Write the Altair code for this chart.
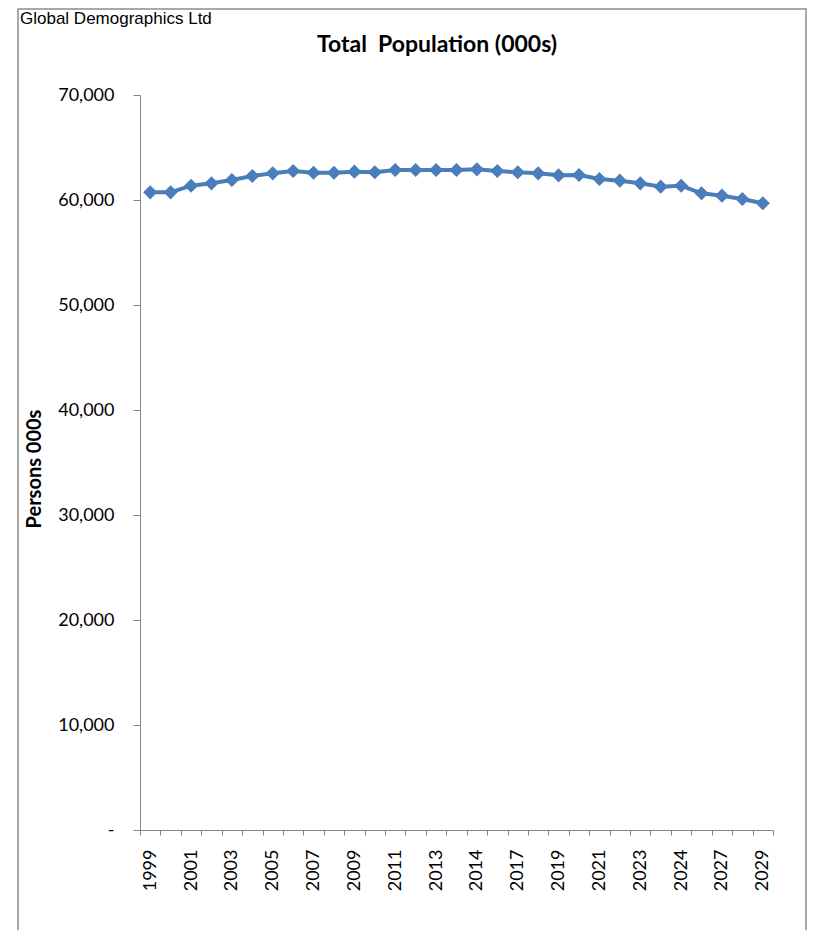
import altair as alt
import pandas as pd

# ---- data ----
years = ["1999", "2000", "2001", "2002", "2003", "2004", "2005", "2006", "2007", "2008",
         "2009", "2010", "2011", "2012", "2013", "2015", "2014", "2016", "2017", "2018",
         "2019", "2020", "2021", "2022", "2023", "2025", "2024", "2026", "2027", "2028",
         "2029"]
population = [60730, 60730, 61360, 61590, 61900, 62290, 62540, 62760, 62600, 62600,
              62700, 62640, 62860, 62860, 62860, 62860, 62920, 62760, 62640, 62540,
              62350, 62380, 62000, 61840, 61590, 61270, 61360, 60640, 60410, 60100,
              59690]
shown_labels = years[::2]
y_ticks = [0, 10000, 20000, 30000, 40000, 50000, 60000, 70000]

title_text = "Total\u00a0 Population (000s)"
source_text = "Global Demographics Ltd"
y_title = "Persons 000s"

W, H = 633, 735
line_color = "#4A7EBB"
axis_grey = "#868686"

df = pd.DataFrame({"year": years, "pop": population})

label_list = ",".join("'" + s + "'" for s in shown_labels)
x_enc = alt.X(
    "year:O", sort=years, title=None,
    scale=alt.Scale(type="band", paddingInner=0, paddingOuter=0),
    axis=alt.Axis(
        tickBand="extent", labelAngle=270,
        labelExpr="indexof([" + label_list + "], datum.label) >= 0 ? datum.label : ''",
        labelFont="Lato", labelFontSize=18, labelColor="black",
        tickSize=5, tickColor=axis_grey, domainColor=axis_grey,
        labelPadding=14, labelOverlap=False, labelBound=False,
    ),
)
y_enc = alt.Y(
    "pop:Q", title=None,
    scale=alt.Scale(domain=[0, 70000], nice=False, zero=True),
    axis=alt.Axis(
        values=y_ticks, grid=False,
        labelExpr="datum.value == 0 ? '-\u00a0\u00a0\u00a0' : format(datum.value, ',')",
        labelFont="Lato", labelFontSize=18, labelColor="black",
        tickSize=7, tickColor=axis_grey, domainColor=axis_grey,
        labelPadding=19,
    ),
)

base = alt.Chart(df)
line = base.mark_line(color=line_color, strokeWidth=4).encode(x=x_enc, y=y_enc)
points = base.mark_point(shape="diamond", filled=True, size=200, color=line_color,
                         opacity=1).encode(x=x_enc, y=y_enc)

one = alt.Data(values=[{"k": 1}])
frame = alt.Chart(one).mark_rect(fillOpacity=0, stroke="#8c8c8c", strokeWidth=1.5).encode(
    x=alt.value(-122), x2=alt.value(666), y=alt.value(-86), y2=alt.value(900)
)
source = alt.Chart(one).mark_text(font="Liberation Sans", fontSize=17, align="left",
                                   baseline="middle", color="black").encode(
    x=alt.value(-120), y=alt.value(-76), text=alt.value(source_text)
)
title = alt.Chart(one).mark_text(font="Lato", fontSize=23, fontWeight="bold",
                                  align="center", baseline="middle", color="black").encode(
    x=alt.value(297), y=alt.value(-50), text=alt.value(title_text)
)
ytitle = alt.Chart(one).mark_text(font="Lato", fontSize=20, fontWeight="bold",
                                   align="center", baseline="middle", angle=270,
                                   color="black").encode(
    x=alt.value(-105), y=alt.value(374), text=alt.value(y_title)
)

chart = alt.layer(frame, line, points, source, title, ytitle).properties(
    width=W, height=H,
    autosize=alt.AutoSizeParams(type="none"),
    padding={"left": 132, "top": 87, "right": 35, "bottom": 100},
).configure(background="white", view=alt.ViewConfig(stroke=None))

chart.save("out.html", embed_options={"renderer": "svg", "actions": False})
